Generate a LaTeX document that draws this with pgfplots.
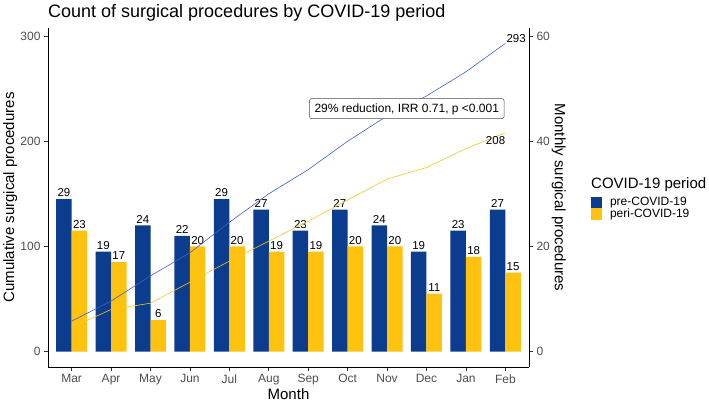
\documentclass[border=0pt]{standalone}
\usepackage{pgfplots}
\pgfplotsset{compat=1.18}
\usepackage{fontspec}
\setmainfont{Liberation Sans}
\definecolor{preblue}{HTML}{0B3C8E}
\definecolor{periyel}{HTML}{FFC20E}
\definecolor{lineblue}{HTML}{3D62C6}
\definecolor{lineyel}{HTML}{F5C623}
\definecolor{tickgray}{HTML}{4D4D4D}
\begin{document}
\begin{tikzpicture}
\useasboundingbox (-48pt,-37pt) rectangle (661pt,367pt);
\pgfplotsset{
 common/.style={scale only axis, width=481pt, height=339pt, xmin=-0.6, xmax=11.6,
  tick align=outside, major tick length=4pt,
  tick style={color=black!80, line width=0.6pt},
  axis line style={line width=0.6pt, black},
  ticklabel style={font=\fontsize{12}{14}\selectfont, text=tickgray},
  /pgf/number format/assume math mode=true,
  label style={font=\fontsize{15}{18}\selectfont}}
}
\begin{axis}[common,
  axis x line*=bottom, axis y line*=right,
  ymin=-2.93, ymax=61.53, ytick={0,20,40,60},
  xtick={0,...,11},
  xticklabels={Mar,Apr,May,Jun,Jul,Aug,Sep,Oct,Nov,Dec,Jan,Feb},
  xlabel={Month}, ylabel={Monthly surgical procedures},
  xlabel style={at={(axis description cs:0.5,-0.0973)}, anchor=base, inner sep=0pt},
  ylabel style={rotate=180, at={(axis description cs:1.077,0.5)}, anchor=north, inner sep=0pt},
  ybar=0pt, bar width=15.5pt,
  nodes near coords,
  nodes near coords style={font=\fontsize{11.5}{13}\selectfont, text=black, inner sep=1pt, yshift=1pt},
  legend style={at={(axis description cs:1.1289,0.5015)}, anchor=north west, draw=none, fill=none,
    inner sep=0pt, outer sep=0pt, font=\fontsize{12}{14}\selectfont, row sep=0pt,
    nodes={inner sep=0pt, text height=9pt, text depth=2.5pt},
    /tikz/every odd column/.append style={column sep=8pt}},
  legend cell align=left,
  legend image code/.code={\path[#1,draw=none] (0pt,-5.75pt) rectangle (11pt,5.75pt);},
]
\addplot[fill=preblue, draw=none] coordinates {(0,29) (1,19) (2,24) (3,22) (4,29) (5,27) (6,23) (7,27) (8,24) (9,19) (10,23) (11,27)};
\addlegendentry{pre-COVID-19}
\addplot[fill=periyel, draw=none] coordinates {(0,23) (1,17) (2,6) (3,20) (4,20) (5,19) (6,19) (7,20) (8,20) (9,11) (10,18) (11,15)};
\addlegendentry{peri-COVID-19}
\end{axis}
\begin{axis}[common, clip=false,
  axis x line=none, axis y line*=left,
  ymin=-14.65, ymax=307.65, ytick={0,100,200,300},
  ylabel={Cumulative surgical procedures},
  ylabel style={at={(axis description cs:-0.0936,0.5)}, anchor=north, inner sep=0pt},
  title={Count of surgical procedures by COVID-19 period},
  every axis title shift=0pt,
  title style={at={(axis description cs:0,1)}, anchor=base west, yshift=10pt, font=\fontsize{18}{21}\selectfont, inner sep=0pt},
]
\addplot[lineblue, line width=0.6pt] coordinates {(0,29) (1,48) (2,72) (3,94) (4,123) (5,150) (6,173) (7,200) (8,224) (9,243) (10,266) (11,293)};
\addplot[lineyel, line width=0.6pt] coordinates {(0,23) (1,40) (2,46) (3,66) (4,86) (5,105) (6,124) (7,144) (8,164) (9,175) (10,193) (11,208)};
\node[anchor=south west, inner sep=1pt, font=\fontsize{11.5}{13}\selectfont] at (axis cs:11,293) {293};
\node[anchor=north east, inner sep=0pt, yshift=-3.5pt, font=\fontsize{11.5}{13}\selectfont] at (axis cs:11,208) {208};
\node[draw=black!70, rounded corners=2pt, fill=white, line width=0.5pt, font=\fontsize{12}{14}\selectfont, inner xsep=5pt, inner ysep=3pt, text height=10.5pt, text depth=3.5pt] at (axis cs:8.5,231) {29\% reduction, IRR 0.71, p <0.001};
\node[anchor=base west, font=\fontsize{15}{18}\selectfont, inner sep=0pt] at (axis description cs:1.1289,0.528) {COVID-19 period};
\end{axis}
\end{tikzpicture}
\end{document}
